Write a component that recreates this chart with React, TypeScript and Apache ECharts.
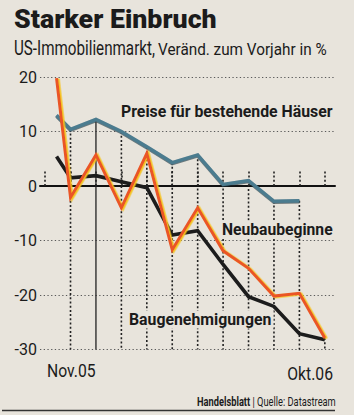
import React, { useEffect, useRef } from "react";
import * as echarts from "echarts";

// Months (x positions on the month axis; first value sits half-way into the first slot)
const months = ["Nov 05", "Dez 05", "Jan 06", "Feb 06", "Mär 06", "Apr 06", "Mai 06", "Jun 06", "Jul 06", "Aug 06", "Sep 06", "Okt 06"];
const monthPos = [0.45, 1, 2, 3, 4, 5, 6, 7, 8, 9, 10, 11];
const tickPositions = [0, 1, 2, 3, 4, 5, 6, 7, 8, 9, 10, 11];
const xTickLabels = ["Nov.05", "Okt.06"];
const yTicks = [-30, -20, -10, 0, 10, 20];

// Series values, % change vs. previous year
const preise = [13.0, 10.4, 12.2, 10.0, 7.2, 4.3, 5.7, 0.3, 1.0, -2.8, -2.7, null];
const neubaubeginne = [19.8, -2.1, 5.7, -4.0, 6.0, -11.7, -4.0, -11.9, -15.1, -20.2, -19.7, -27.9];
const baugenehmigungen = [5.4, 1.5, 1.9, 0.8, -0.3, -9.0, -8.2, -14.4, -20.3, -22.1, -27.1, -28.2];

const seriesNames = ["Preise für bestehende Häuser", "Neubaubeginne", "Baugenehmigungen"];
const titleText = "Starker Einbruch";
const subtitleA = "US-Immobilienmarkt,";
const subtitleB = "Veränd. zum Vorjahr in %";
const sourceA = "Handelsblatt";
const sourceB = " | Quelle: Datastream";

const FONT = "Roboto, 'Noto Sans', sans-serif";
const INK = "#1b1b1b";
const BG = "#e8e4dc";

function ctext(x: number, y: number, text: string, size: number, weight: string | number, scaleX: number, align = "left", bg = false) {
  return {
    type: "text",
    x,
    y,
    scaleX,
    silent: true,
    z: 10,
    style: {
      text,
      fontFamily: FONT,
      fontSize: size,
      fontWeight: weight,
      fill: INK,
      align,
      verticalAlign: "middle",
      backgroundColor: bg ? BG : undefined,
      padding: bg ? [1, 2, 1, 2] : undefined,
    },
  };
}

export default function App() {
  const ref = useRef<HTMLDivElement>(null);
  useEffect(() => {
    if (!ref.current) return;
    const chart = echarts.init(ref.current, null, { renderer: "svg" });
    const yMin = yTicks[0];
    const toPairs = (vals: (number | null)[]) => vals.map((v, i) => [monthPos[i], v]);
    const dropData = monthPos
      .map((x, i) => {
        const vals = [preise[i], neubaubeginne[i], baugenehmigungen[i]].filter((v) => v !== null) as number[];
        return [x, Math.max(...vals), months[i].startsWith("Jan") ? 1 : 0];
      })
      .filter((d) => Number.isInteger(d[0]));

    chart.setOption({
      animation: false,
      backgroundColor: BG,
      grid: { left: 40, right: 19, top: 77, bottom: 65.5, containLabel: false },
      xAxis: {
        type: "value",
        min: -0.2,
        max: 11.4,
        axisLine: { show: true, lineStyle: { color: "#111", width: 2 } },
        axisTick: {
          show: true,
          inside: true,
          length: 16,
          customValues: tickPositions,
          lineStyle: { color: "#222", width: 1.6, type: [2, 2.2] },
        },
        axisLabel: { show: false },
        splitLine: { show: false },
      },
      yAxis: {
        type: "value",
        min: yTicks[0],
        max: yTicks[yTicks.length - 1],
        interval: 10,
        axisLine: { show: false },
        axisTick: { show: false },
        axisLabel: { color: INK, fontFamily: FONT, fontSize: 16, margin: 3 },
        splitLine: { lineStyle: { color: "#5a5a5a", width: 1.2, type: [1.3, 2.4] } },
      },
      series: [
        {
          type: "custom",
          data: dropData,
          silent: true,
          z: 1,
          renderItem: (params: any, api: any) => {
            const x = api.value(0);
            const top = api.value(1);
            const solid = api.value(2) === 1;
            const p1 = api.coord([x, top]);
            const p2 = api.coord([x, yMin]);
            return {
              type: "line",
              shape: { x1: p1[0], y1: p1[1], x2: p2[0], y2: p2[1] },
              style: {
                stroke: "#222",
                lineWidth: solid ? 1.3 : 1.6,
                lineDash: solid ? null : [2, 2.2],
              },
            };
          },
        },
        {
          name: seriesNames[0],
          type: "line",
          data: toPairs(preise),
          symbol: "none",
          z: 3,
          clip: false,
          lineStyle: {
            color: "#4c7b8f",
            width: 3.5,
            join: "miter",
            shadowColor: "rgba(25,45,55,0.75)",
            shadowOffsetY: 0.8,
            shadowBlur: 0,
          },
        },
        {
          name: seriesNames[2],
          type: "line",
          data: toPairs(baugenehmigungen),
          symbol: "none",
          z: 4,
          clip: false,
          lineStyle: { color: "#1c1c1c", width: 3.6, join: "miter" },
        },
        {
          name: seriesNames[1],
          type: "line",
          data: toPairs(neubaubeginne),
          symbol: "none",
          z: 5,
          clip: false,
          lineStyle: {
            color: "#ea5527",
            width: 3,
            join: "miter",
            shadowColor: "#f5c21a",
            shadowOffsetX: 1.6,
            shadowOffsetY: 0.6,
            shadowBlur: 0,
          },
        },
      ],
      graphic: [
        ctext(14, 19, titleText, 25, 900, 1.07),
        ctext(14, 48, subtitleA, 20, "normal", 0.76),
        ctext(158, 49, subtitleB, 17, "normal", 0.9),
        ctext(121, 111.5, seriesNames[0], 16, "bold", 0.99),
        ctext(220, 229.5, seriesNames[1], 16, "bold", 0.98, "left", true),
        ctext(127, 319.5, seriesNames[2], 16, "bold", 0.99, "left", true),
        ctext(47, 370.5, xTickLabels[0], 18.5, "normal", 0.85),
        ctext(333, 374, xTickLabels[1], 18.5, "normal", 0.85, "right"),
        {
          type: "text",
          x: 197,
          y: 402.5,
          scaleX: 0.775,
          silent: true,
          style: {
            text: "{b|" + sourceA + "}{n|" + sourceB + "}",
            verticalAlign: "middle",
            rich: {
              b: { fontFamily: FONT, fontSize: 12, fontWeight: "bold", fill: INK, color: INK },
              n: { fontFamily: FONT, fontSize: 12, fill: INK, color: INK },
            },
          },
        },
        {
          type: "line",
          silent: true,
          shape: { x1: 2, y1: 410.5, x2: 335, y2: 410.5 },
          style: { stroke: "#333", lineWidth: 1.5 },
        },
      ],
    });
    return () => chart.dispose();
  }, []);
  return (
    <div
      ref={ref}
      style={{ position: "fixed", left: 0, top: 0, width: 354, height: 415, background: BG }}
    />
  );
}
